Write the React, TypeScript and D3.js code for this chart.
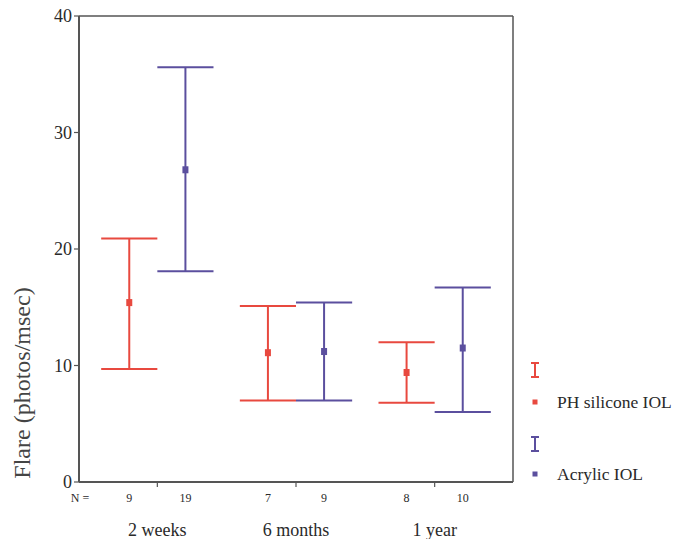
import React from "react";
import * as d3 from "d3";

const groups = ["2 weeks", "6 months", "1 year"];
const seriesNames = ["PH silicone IOL", "Acrylic IOL"];
const siliconeMean = [15.4, 11.1, 9.4];
const siliconeLow = [9.7, 7.0, 6.8];
const siliconeHigh = [20.9, 15.1, 12.0];
const siliconeN = [9, 7, 8];
const acrylicMean = [26.8, 11.2, 11.5];
const acrylicLow = [18.1, 7.0, 6.0];
const acrylicHigh = [35.6, 15.4, 16.7];
const acrylicN = [19, 9, 10];
const yTicks = [0, 10, 20, 30, 40];

const colors = ["#e8493f", "#5b4f9e"];
const axisColor = "#555";
const font = "'Liberation Serif', 'Times New Roman', serif";

export default function App() {
  const W = 675, H = 539;
  const left = 79, right = 513, top = 16, bottom = 482;
  const y = d3.scaleLinear().domain([0, 40]).range([bottom, top]);
  const x0 = d3.scaleBand().domain(groups).range([left, right]).paddingInner(0.19).paddingOuter(0.16);
  const x1 = d3.scaleBand().domain(seriesNames).range([0, x0.bandwidth()]);
  const cap = x1.bandwidth();

  const series = [
    { name: seriesNames[0], mean: siliconeMean, low: siliconeLow, high: siliconeHigh, n: siliconeN, color: colors[0] },
    { name: seriesNames[1], mean: acrylicMean, low: acrylicLow, high: acrylicHigh, n: acrylicN, color: colors[1] },
  ];
  const cx = (g: string, s: string) => (x0(g) as number) + (x1(s) as number) + cap / 2;
  const gc = (g: string) => (x0(g) as number) + x0.bandwidth() / 2;

  return (
    <svg width={W} height={H} style={{ position: "absolute", left: 0, top: 0, display: "block", background: "#fff" }}>
      <line x1={left} x2={right} y1={top} y2={top} stroke={axisColor} strokeWidth={1.5} />
      <line x1={right} x2={right} y1={top} y2={bottom} stroke={axisColor} strokeWidth={1.5} />
      <line x1={left} x2={left} y1={top} y2={bottom} stroke={axisColor} strokeWidth={2} />
      <line x1={left} x2={right} y1={bottom} y2={bottom} stroke={axisColor} strokeWidth={2} />
      {yTicks.map((t) => (
        <g key={t}>
          <line x1={left - 5} x2={left} y1={y(t)} y2={y(t)} stroke={axisColor} strokeWidth={1.2} />
          <text x={left - 7} y={y(t)} dy="0.35em" textAnchor="end" fontFamily={font} fontSize={18} fill="#2a2a2a">{t}</text>
        </g>
      ))}
      {groups.map((g) => (
        <g key={g}>
          <line x1={gc(g)} x2={gc(g)} y1={bottom} y2={bottom + 5} stroke={axisColor} strokeWidth={1.2} />
          <text x={gc(g)} y={536} textAnchor="middle" fontFamily={font} fontSize={18} fill="#2a2a2a">{g}</text>
        </g>
      ))}
      <text x={80} y={502} textAnchor="middle" fontFamily={font} fontSize={12} fill="#2a2a2a">N =</text>
      {series.map((s) =>
        groups.map((g, i) => {
          const x = cx(g, s.name);
          return (
            <g key={s.name + g}>
              <line x1={x} x2={x} y1={y(s.low[i])} y2={y(s.high[i])} stroke={s.color} strokeWidth={2} />
              <line x1={x - cap / 2} x2={x + cap / 2} y1={y(s.high[i])} y2={y(s.high[i])} stroke={s.color} strokeWidth={2} />
              <line x1={x - cap / 2} x2={x + cap / 2} y1={y(s.low[i])} y2={y(s.low[i])} stroke={s.color} strokeWidth={2} />
              <rect x={x - 3} y={y(s.mean[i]) - 3.5} width={6} height={7} fill={s.color} />
              <text x={x} y={502} textAnchor="middle" fontFamily={font} fontSize={12} fill="#2a2a2a">{s.n[i]}</text>
            </g>
          );
        })
      )}
      <text transform={`translate(30, 383) rotate(-90)`} textAnchor="middle" fontFamily={font} fontSize={24} fill="#444">Flare (photos/msec)</text>
      {series.map((s, i) => {
        const lx = 535;
        const iy = i === 0 ? 363 : 437;
        const dy = i === 0 ? 402 : 474;
        return (
          <g key={s.name}>
            <line x1={lx} x2={lx} y1={iy} y2={iy + 14} stroke={s.color} strokeWidth={2} />
            <line x1={lx - 4} x2={lx + 4} y1={iy} y2={iy} stroke={s.color} strokeWidth={2} />
            <line x1={lx - 4} x2={lx + 4} y1={iy + 14} y2={iy + 14} stroke={s.color} strokeWidth={2} />
            <rect x={lx - 2.5} y={dy - 2.5} width={5} height={5} fill={s.color} />
            <text x={557} y={dy} dy="0.35em" fontFamily={font} fontSize={17.5} fill="#2a2a2a">{s.name}</text>
          </g>
        );
      })}
    </svg>
  );
}
